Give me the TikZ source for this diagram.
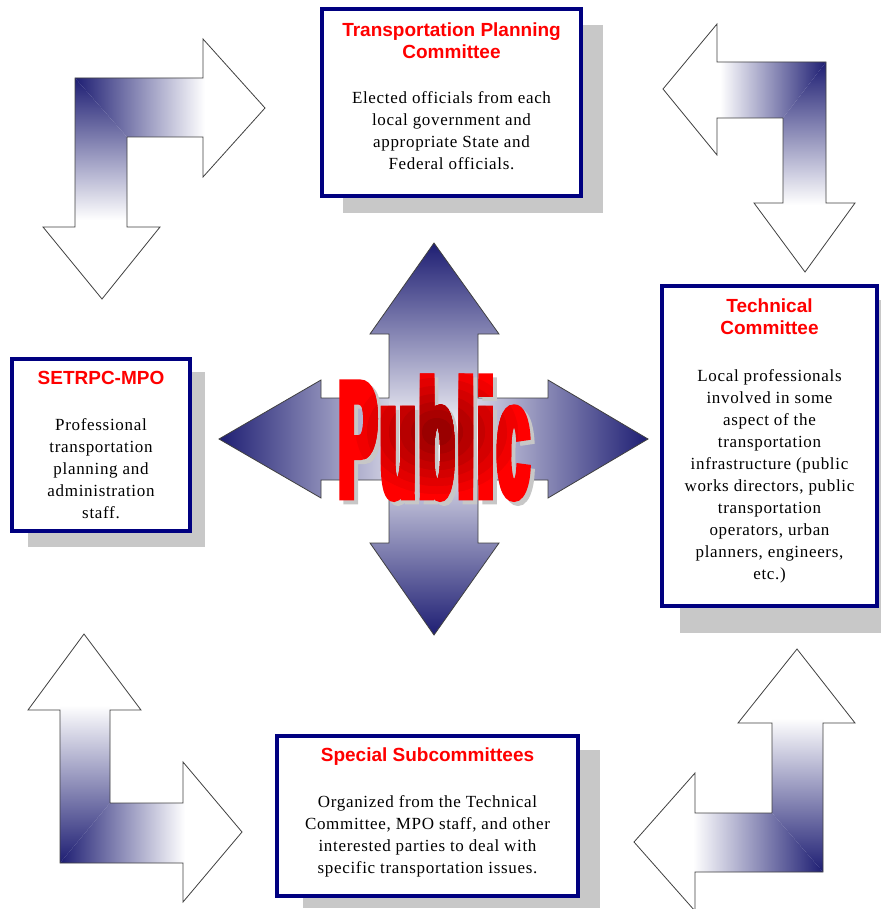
\documentclass[tikz,border=0pt]{standalone}
\usepackage{fontspec}
\setmainfont{Liberation Serif}
\newfontfamily\bodyfont{Liberation Serif}[LetterSpace=4]
\newfontfamily\headfont{Liberation Sans}
\newfontfamily\pubfont{Liberation Sans}[UprightFont=* Bold, FakeStretch=0.34, FakeBold=4, LetterSpace=2.5]
\usetikzlibrary{positioning}

\definecolor{boxnavy}{RGB}{0,0,128}
\definecolor{arrownavy}{RGB}{30,30,115}
\definecolor{shadowgray}{RGB}{200,200,200}
\definecolor{titlered}{RGB}{255,0,0}
\definecolor{pubdark}{RGB}{135,0,0}

\tikzset{
  panel/.style={draw=boxnavy, line width=4pt, fill=white},
  heading/.style={font=\headfont\bfseries\fontsize{19}{22}\selectfont, text=titlered, align=center, inner sep=0pt},
  blurb/.style={font=\bodyfont\fontsize{17}{22}\selectfont, align=center, inner sep=0pt},
  arrowline/.style={draw=black!75, line width=0.8pt},
  pubtext/.style={font=\pubfont\fontsize{166}{166}\selectfont, inner sep=0pt, anchor=base}
}

\begin{document}
\begin{tikzpicture}[x=1pt, y=-1pt]
  \useasboundingbox (0,0) rectangle (881,909);

  % shadows behind the boxes
  \fill[shadowgray] (343,25) rectangle (603,213);
  \fill[shadowgray] (680,300) rectangle (881,633);
  \fill[shadowgray] (28,372) rectangle (205,547);
  \fill[shadowgray] (303,750) rectangle (600,908);

  % the four boxes
  \node[panel, minimum width=259pt, minimum height=187pt] (tpc) at (451.5,102.5) {};
  \node[heading] (tpc-t) at (451.5,41) {Transportation Planning\\Committee};
  \node[blurb] (tpc-b) at (451.5,130.5) {Elected officials from each\\local government and\\appropriate State and\\Federal officials.};

  \node[panel, minimum width=215pt, minimum height=320pt] (tc) at (769.5,446) {};
  \node[heading] (tc-t) at (769.5,317) {Technical\\Committee};
  \node[blurb] (tc-b) at (769.5,476) {Local professionals\\involved in some\\aspect of the\\transportation\\infrastructure (public\\works directors, public\\transportation\\operators, urban\\planners, engineers,\\etc.)};

  \node[panel, minimum width=178pt, minimum height=172pt] (mpo) at (101,445) {};
  \node[heading] (mpo-t) at (101,378) {SETRPC-MPO};
  \node[blurb] (mpo-b) at (101,469) {Professional\\transportation\\planning and\\administration\\staff.};

  \node[panel, minimum width=301pt, minimum height=160pt] (ssc) at (427.5,816) {};
  \node[heading] (ssc-t) at (427.5,757) {Special Subcommittees};
  \node[blurb] (ssc-b) at (427.5,836) {Organized from the Technical\\Committee, MPO staff, and other\\interested parties to deal with\\specific transportation issues.};

  % centre cross
  \shade[left color=arrownavy, right color=arrownavy, middle color=white]
    (219,439) -- (321,380) -- (321,398) -- (548,398) -- (548,380) -- (648,439)
    -- (548,498) -- (548,480) -- (321,480) -- (321,498) -- cycle;
  \shade[top color=arrownavy, bottom color=arrownavy, middle color=white]
    (434,243) -- (499,334) -- (478,334) -- (478,543) -- (499,543) -- (434,635)
    -- (370,543) -- (389,543) -- (389,334) -- (370,334) -- cycle;
  \draw[arrowline] (434,243) -- (499,334) -- (478,334) -- (478,398) -- (548,398)
    -- (548,380) -- (648,439) -- (548,498) -- (548,480) -- (478,480) -- (478,543)
    -- (499,543) -- (434,635) -- (370,543) -- (389,543) -- (389,480) -- (321,480)
    -- (321,498) -- (219,439) -- (321,380) -- (321,398) -- (389,398) -- (389,334)
    -- (370,334) -- cycle;

  % top left bent arrow
  \begin{scope}
    \clip (265,108) -- (203,39) -- (203,78) -- (75,78) -- (75,227) -- (43,227) -- (102,299)
      -- (160,227) -- (127,227) -- (127,137) -- (203,137) -- (203,177) -- cycle;
    \fill[white] (40,30) rectangle (270,300);
    \shade[left color=arrownavy, right color=white] (75,78) -- (205,78) -- (205,137) -- (127,137) -- cycle;
    \shade[top color=arrownavy, bottom color=white] (75,78) -- (127,137) -- (127,220) -- (75,220) -- cycle;
  \end{scope}
  \draw[arrowline] (265,108) -- (203,39) -- (203,78) -- (75,78) -- (75,227) -- (43,227) -- (102,299)
    -- (160,227) -- (127,227) -- (127,137) -- (203,137) -- (203,177) -- cycle;

  % top right bent arrow
  \begin{scope}
    \clip (663,89) -- (717,24) -- (717,62) -- (826,62) -- (826,203) -- (855,203) -- (805,272)
      -- (754,203) -- (783,203) -- (783,118) -- (717,118) -- (717,155) -- cycle;
    \fill[white] (660,20) rectangle (860,275);
    \shade[left color=white, right color=arrownavy] (720,62) -- (826,62) -- (783,118) -- (720,118) -- cycle;
    \shade[top color=arrownavy, bottom color=white] (826,62) -- (826,205) -- (783,205) -- (783,118) -- cycle;
  \end{scope}
  \draw[arrowline] (663,89) -- (717,24) -- (717,62) -- (826,62) -- (826,203) -- (855,203) -- (805,272)
    -- (754,203) -- (783,203) -- (783,118) -- (717,118) -- (717,155) -- cycle;

  % bottom left bent arrow
  \begin{scope}
    \clip (84,634) -- (141,710) -- (110,710) -- (110,803) -- (183,803) -- (183,762) -- (242,832)
      -- (183,902) -- (183,863) -- (60,863) -- (60,710) -- (28,710) -- cycle;
    \fill[white] (25,630) rectangle (245,905);
    \shade[left color=arrownavy, right color=white] (60,863) -- (110,803) -- (185,803) -- (185,863) -- cycle;
    \shade[top color=white, bottom color=arrownavy] (60,705) -- (110,705) -- (110,803) -- (60,863) -- cycle;
  \end{scope}
  \draw[arrowline] (84,634) -- (141,710) -- (110,710) -- (110,803) -- (183,803) -- (183,762) -- (242,832)
    -- (183,902) -- (183,863) -- (60,863) -- (60,710) -- (28,710) -- cycle;

  % bottom right bent arrow
  \begin{scope}
    \clip (797,649) -- (855,723) -- (823,723) -- (823,872) -- (695,872) -- (695,911) -- (634,842)
      -- (695,773) -- (695,813) -- (772,813) -- (772,723) -- (738,723) -- cycle;
    \fill[white] (630,645) rectangle (860,915);
    \shade[left color=white, right color=arrownavy] (693,813) -- (772,813) -- (823,872) -- (693,872) -- cycle;
    \shade[top color=white, bottom color=arrownavy] (772,718) -- (823,718) -- (823,872) -- (772,813) -- cycle;
  \end{scope}
  \draw[arrowline] (797,649) -- (855,723) -- (823,723) -- (823,872) -- (695,872) -- (695,911) -- (634,842)
    -- (695,773) -- (695,813) -- (772,813) -- (772,723) -- (738,723) -- cycle;

  % Public, with shadow and dark centre
  \node[pubtext, text=black!22] (public-shadow) at (438,501) {Public};
  \node[pubtext, text=titlered] (public) at (434,497) {Public};
  \foreach \k [evaluate=\k as \pct using int(100-12*\k),
               evaluate=\k as \rx using 92-11*\k,
               evaluate=\k as \ry using 70-8*\k] in {1,...,7} {
    \begin{scope}
      \clip (437,432) ellipse ({\rx} and {\ry});
      \node[pubtext, text=titlered!\pct!pubdark] (public-\k) at (434,497) {Public};
    \end{scope}
  }
\end{tikzpicture}
\end{document}
